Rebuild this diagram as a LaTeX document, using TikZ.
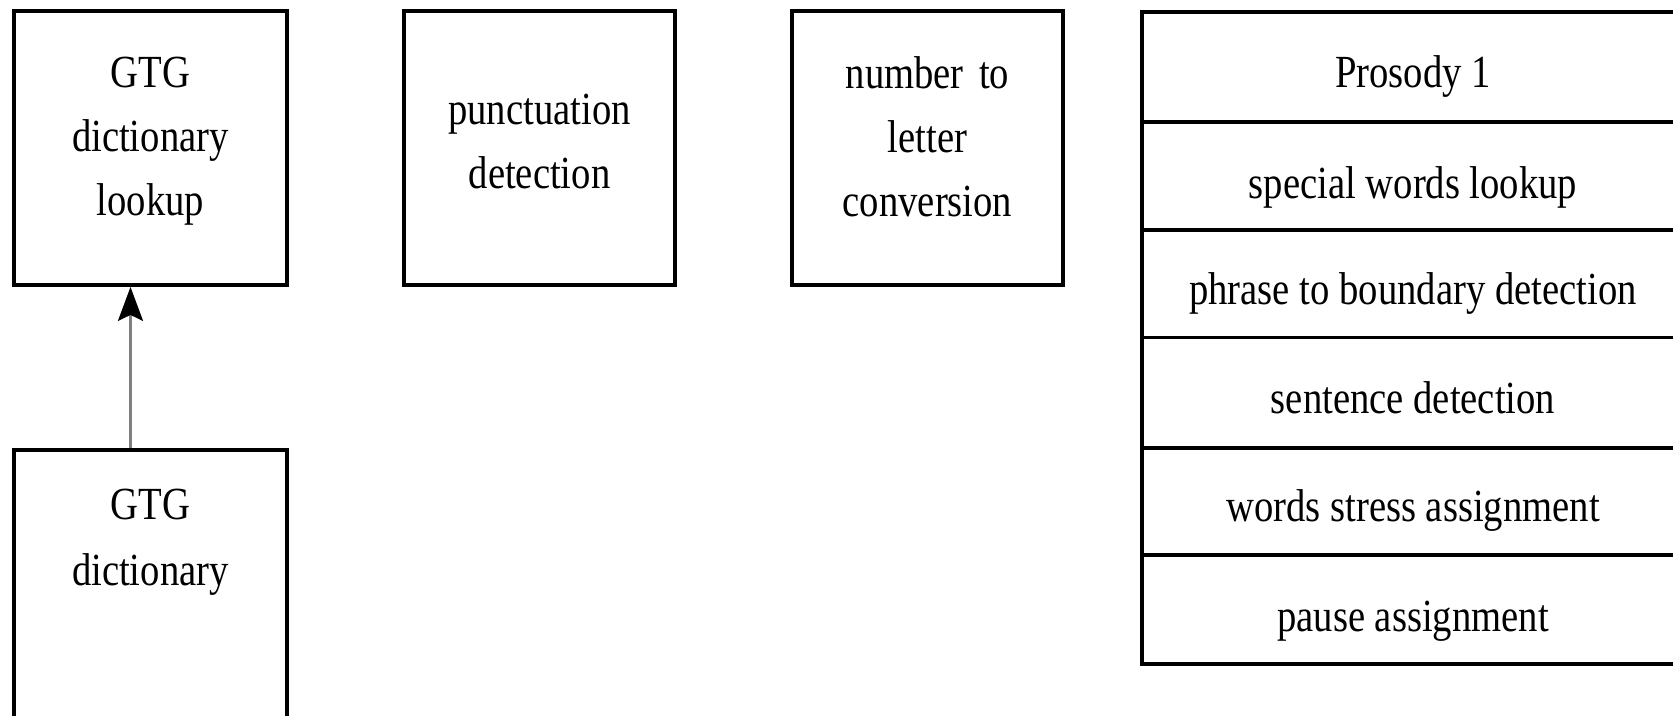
\documentclass[tikz,border=0pt]{standalone}
\usepackage{fontspec}
\setmainfont{Liberation Serif}[FakeStretch=0.84]
\usetikzlibrary{arrows.meta}
\tikzset{
  box/.style={draw=black, line width=3.8pt, inner sep=0pt, rectangle},
  rowbox/.style={draw=black, line width=3.8pt, inner sep=0pt, rectangle, minimum width=558pt},
  lbl/.style={inner sep=0pt, anchor=base, text width=265pt, align=center,
    font=\fontsize{46}{64}\selectfont},
  rowlbl/.style={inner sep=0pt, anchor=base, font=\fontsize{46}{64}\selectfont},
  arr/.style={draw={rgb,255:red,128;green,128;blue,128}, line width=2.6pt,
    -{Stealth[length=34pt, width=25pt, inset=6pt, color=black]}}
}
\begin{document}
\begin{tikzpicture}[x=1pt, y=-1pt]
\clip (0,0) rectangle (1673,715);
\fill[white] (0,0) rectangle (1673,715);
% boxes
\node[box, minimum width=272.7pt, minimum height=273.7pt] (b1) at (150.35,148.15) {};
\node[box, minimum width=272.7pt, minimum height=350pt] (b2) at (150.35,625) {};
\node[box, minimum width=271pt, minimum height=273.7pt] (b3) at (539.5,148.15) {};
\node[box, minimum width=271pt, minimum height=273.7pt] (b4) at (927.5,148.15) {};
% texts
\node[lbl] (t1) at (150.35,87) {GTG\\dictionary\\lookup};
\node[lbl, font=\fontsize{46}{66}\selectfont] (t2) at (150.35,519) {GTG\\dictionary};
\node[lbl] (t3) at (539.5,124) {punctuation\\detection};
\node[lbl] (t4) at (927.5,88) {number to\\letter\\conversion};
% table rows
\node[rowbox, minimum height=110pt] (r0) at (1421,67) {};
\node[rowbox, minimum height=108pt] (r1) at (1421,176) {};
\node[rowbox, minimum height=107.5pt] (r2) at (1421,283.75) {};
\node[rowbox, minimum height=110.5pt] (r3) at (1421,392.75) {};
\node[rowbox, minimum height=107pt] (r4) at (1421,501.5) {};
\node[rowbox, minimum height=109pt] (r5) at (1421,609.5) {};
\node[rowlbl] (s0) at (1413,87) {Prosody 1};
\node[rowlbl] (s1) at (1413,198) {special words lookup};
\node[rowlbl] (s2) at (1413,304) {phrase to boundary detection};
\node[rowlbl] (s3) at (1413,413) {sentence detection};
\node[rowlbl] (s4) at (1413,521) {words stress assignment};
\node[rowlbl] (s5) at (1413,631) {pause assignment};
% arrow
\coordinate (ax) at (130.5,0);
\draw[arr] (b2.north -| ax) -- (b1.south -| ax);
\end{tikzpicture}
\end{document}
